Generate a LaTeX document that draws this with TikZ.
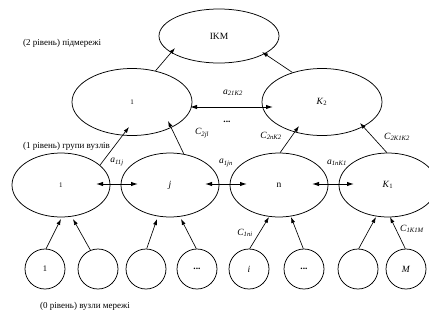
\documentclass[tikz,border=0pt]{standalone}
\usepackage{fontspec}
\setmainfont{Liberation Serif}
\usetikzlibrary{shapes.geometric,arrows.meta,calc}
\newcommand\sublbl[2]{\textit{#1}\textsubscript{\textit{#2}}}
\begin{document}
\begin{tikzpicture}[x=1pt,y=-1pt,
  every node/.style={font=\fontsize{9.5}{11}\selectfont},
  oval/.style={draw, ellipse, line width=0.75pt, inner sep=0pt},
  bigoval/.style={oval, minimum width=120pt, minimum height=67pt},
  midoval/.style={oval, minimum width=98pt, minimum height=64pt},
  leaf/.style={draw, circle, line width=0.75pt, minimum size=40pt, inner sep=0pt},
  arr/.style={line width=0.65pt, -{Latex[length=6pt,width=4pt]}},
  darr/.style={line width=1pt, {Latex[length=7pt,width=4.5pt]}-{Latex[length=7pt,width=4.5pt]}},
  lbl/.style={inner sep=0pt},
  lvl/.style={inner sep=0pt, anchor=west, font=\fontsize{9}{10}\selectfont},
]
\useasboundingbox (0,0) rectangle (429,325);
% level 2
\node[oval, minimum width=120pt, minimum height=54pt] (ikm) at (219,36) {IKM};
\node[bigoval] (La) at (132,102) {\fontsize{7}{8}\selectfont 1};
\node[bigoval] (Lb) at (322,102) {\textit{K}\textsubscript{2}};
% level 1
\node[midoval] (e1) at (61,185) {\fontsize{7}{8}\selectfont 1};
\node[midoval] (ej) at (170,185) {\textit{j}};
\node[midoval] (en) at (279,185) {n};
\node[midoval] (ek) at (388,185) {\textit{K}\textsubscript{1}};
% level 0
\node[leaf] (c1) at (45,269) {\fontsize{8.5}{10}\selectfont 1};
\node[leaf] (c2) at (98,269) {};
\node[leaf] (c3) at (146,269) {};
\node[leaf] (c4) at (197,269) {\textbf{...}};
\node[leaf] (c5) at (249,269) {\textit{i}};
\node[leaf] (c6) at (304,269) {\textbf{...}};
\node[leaf] (c7) at (358,269) {};
\node[leaf] (c8) at (406,269) {\textit{M}};
% level 2 -> IKM
\draw[arr] (La.53) -- ($(ikm.center)+(-44,12)$);
\draw[arr] (Lb.135) -- ($(ikm.center)+(43,16)$);
\draw[darr] ($(La.center)+(58,5)$) -- ($(Lb.center)+(-49,5)$);
% level 1 -> level 2
\draw[arr] (e1.27) -- ($(La.center)+(-3,25)$);
\draw[arr] (ej.66) -- ($(La.center)+(36,19)$);
\draw[arr] (en.88) -- ($(Lb.center)+(-23,24)$);
\draw[arr] (ek.92) -- ($(Lb.center)+(38,21)$);
% level 1 links
\draw[darr] ($(e1.center)+(35,-1)$) -- ($(ej.center)+(-32,-1)$);
\draw[darr] ($(ej.center)+(35,-1)$) -- ($(en.center)+(-32,-1)$);
\draw[darr] ($(en.center)+(33,-1)$) -- ($(ek.center)+(-34,-1)$);
% level 0 -> level 1
\draw[arr] (c1.87) -- ($(e1.center)+(0,34)$);
\draw[arr] (c2.112) -- ($(e1.center)+(12,34)$);
\draw[arr] (c3.88) -- ($(ej.center)+(-13,34)$);
\draw[arr] (c4.92) -- ($(ej.center)+(11,34)$);
\draw[arr] (c5.88) -- ($(en.center)+(-10,32)$);
\draw[arr] (c6.92) -- ($(en.center)+(12,32)$);
\draw[arr] (c7.88) -- ($(ek.center)+(-12,32)$);
\draw[arr] (c8.92) -- ($(ek.center)+(2,32)$);
% labels
\node[lbl] (t21) at (233,93) {\sublbl{a}{21K2}};
\node[lbl] (tdots) at (227,122) {\textbf{...}};
\node[lbl] (t2jl) at (202,133) {\sublbl{C}{2jl}};
\node[lbl] (t2n) at (271,136) {\sublbl{C}{2nK2}};
\node[lbl] (t2k) at (397,137) {\sublbl{C}{2K1K2}};
\node[lbl] (t11) at (117,162) {\sublbl{a}{11j}};
\node[lbl] (t1jn) at (226,163) {\sublbl{a}{1jn}};
\node[lbl] (t1nk) at (337,163) {\sublbl{a}{1nK1}};
\node[lbl] (t1ni) at (245,233) {\sublbl{C}{1ni}};
\node[lbl] (t1km) at (412,229) {\sublbl{C}{1K1M}};
\node[lvl] (l2) at (23,43) {(2 рівень) підмережі};
\node[lvl] (l1) at (23,146) {(1 рівень) групи вузлів};
\node[lvl] (l0) at (40,306) {(0 рівень) вузли мережі};
\end{tikzpicture}
\end{document}
